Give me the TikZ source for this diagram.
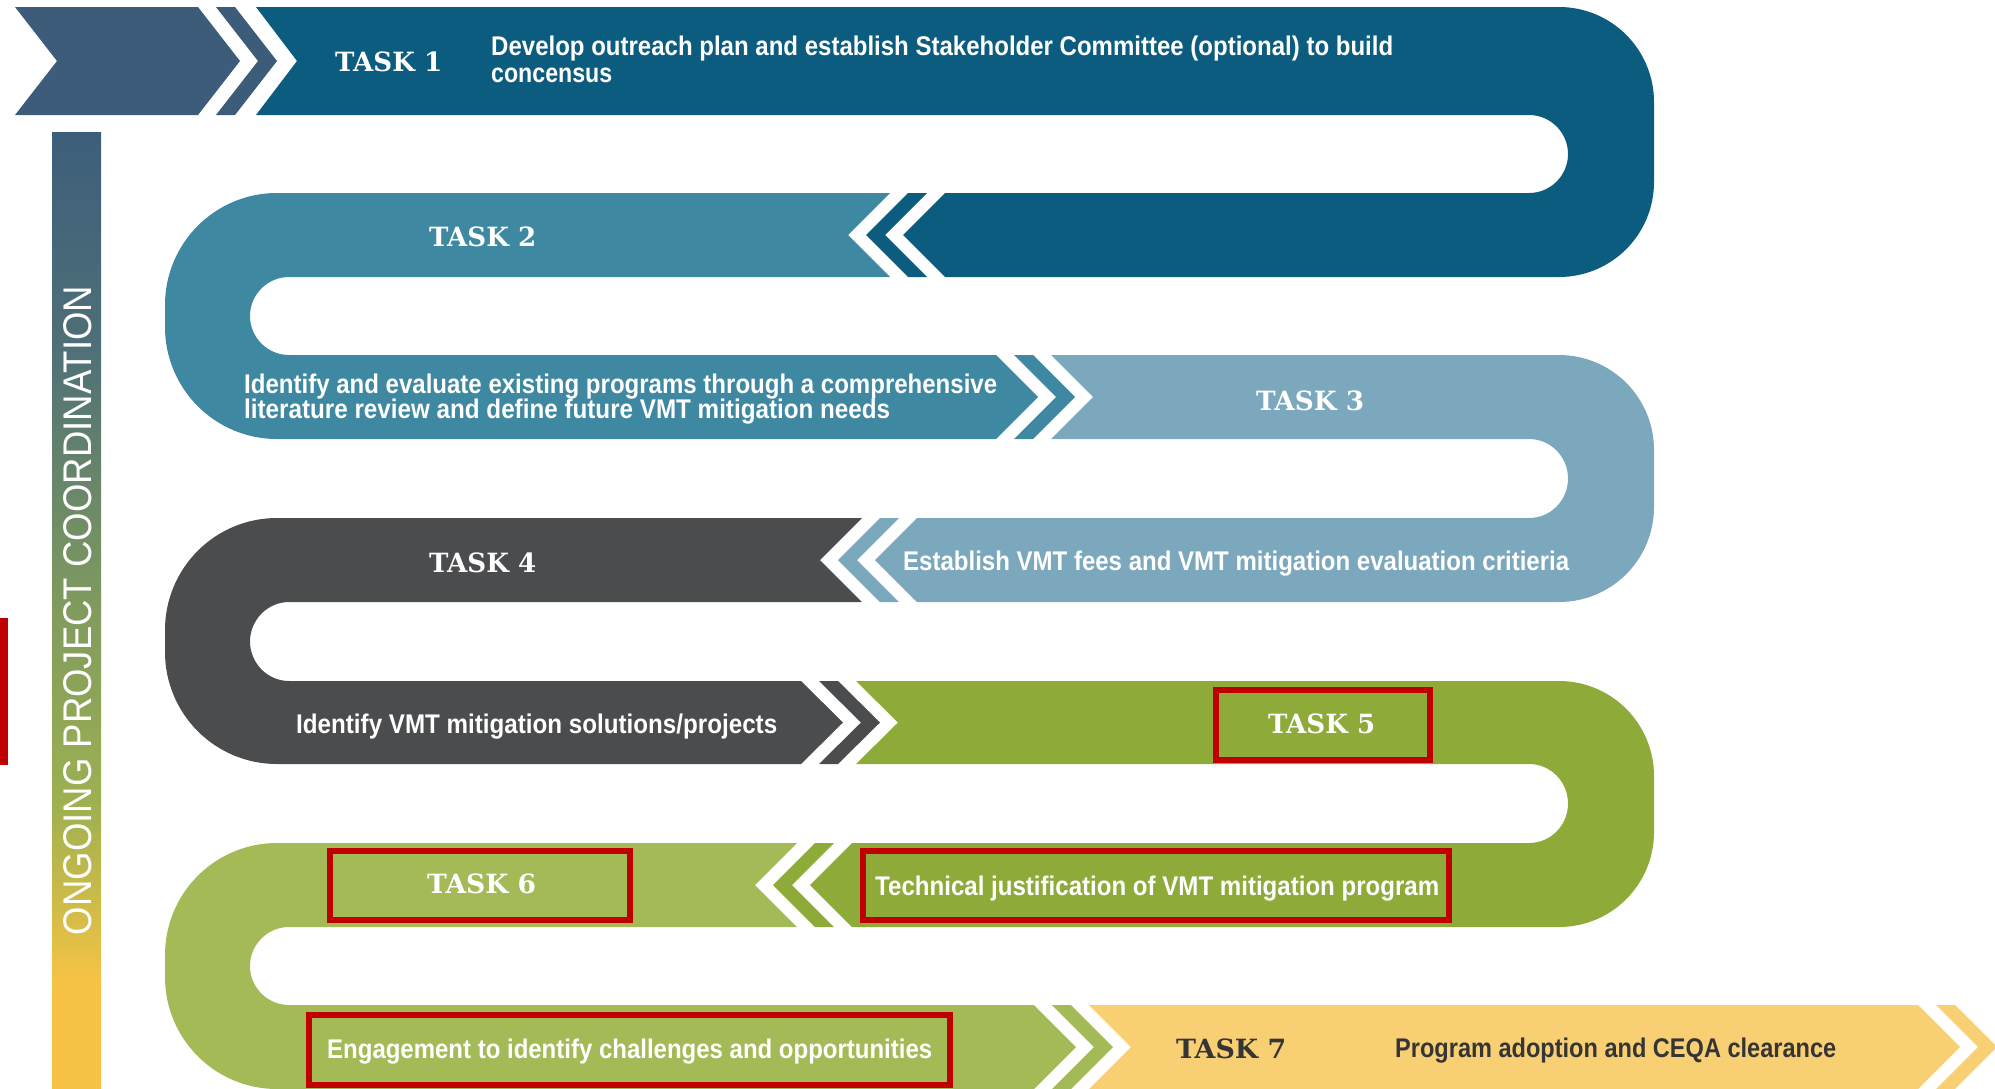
\documentclass[tikz,border=0pt]{standalone}
\usepackage{graphicx}
\usepackage{fontspec}
\setmainfont{Liberation Sans}
\newfontfamily\slabfont{DejaVu Serif}
\newfontfamily\descfont{Liberation Sans}
\newcommand\fitw[2]{\resizebox{#1pt}{\height}{#2}}
\definecolor{slate}{HTML}{3C5C79}
\definecolor{cA}{HTML}{0C5C7F}
\definecolor{cB}{HTML}{3F88A2}
\definecolor{cC}{HTML}{7CA8BE}
\definecolor{cD}{HTML}{4B4C4E}
\definecolor{cE}{HTML}{8EAB39}
\definecolor{cF}{HTML}{A4BA57}
\definecolor{cG}{HTML}{F9CF74}
\definecolor{redc}{HTML}{C00000}
\definecolor{textdark}{HTML}{353535}
\definecolor{barS}{HTML}{3D5E7A}
\definecolor{barT}{HTML}{4F7077}
\definecolor{barM}{HTML}{7F9A5E}
\definecolor{barG}{HTML}{9CB051}
\definecolor{barO}{HTML}{CDBB48}
\definecolor{barY}{HTML}{F6C345}
\pgfdeclareverticalshading{barshade}{100bp}{color(0bp)=(barY); color(25bp)=(barY); color(30.6bp)=(barY); color(34.8bp)=(barO); color(40.1bp)=(barG); color(50.5bp)=(barM); color(63.6bp)=(barT); color(75bp)=(barS); color(100bp)=(barS)}
\tikzset{
  lab/.style={inner sep=0pt, anchor=base west, text=white, font=\slabfont\bfseries\fontsize{26.5}{30}\selectfont},
  desc/.style={inner sep=0pt, anchor=base west, text=white, font=\descfont\bfseries\fontsize{27}{30}\selectfont},
  bartext/.style={inner sep=0pt, rotate=90, text=white, font=\descfont\fontsize{40}{44}\selectfont},
  redbox/.style={draw=redc, line width=6pt},
}
\begin{document}
\begin{tikzpicture}[x=1pt,y=-1pt]
\useasboundingbox (0,0) rectangle (1995,1088);
\clip (0,0) rectangle (1995,1088);

% vertical coordination bar
\shade[shading=barshade] (52,132) rectangle (101,1088);

% start chevron
\fill[slate] (15,7) -- (198,7) -- (240,61) -- (198,115) -- (15,115) -- (57,61) -- cycle;

% stripes between tasks
\fill[slate] (216,7) -- (235,7) -- (277,61) -- (235,115) -- (216,115) -- (258,61) -- cycle;
\fill[cA] (927,193) -- (908,193) -- (866,235) -- (908,277) -- (927,277) -- (885,235) -- cycle;
\fill[cB] (1014,355) -- (1033,355) -- (1075,397) -- (1033,439) -- (1014,439) -- (1056,397) -- cycle;
\fill[cC] (899,518) -- (880,518) -- (838,560) -- (880,602) -- (899,602) -- (857,560) -- cycle;
\fill[cD] (819,681) -- (838,681) -- (880,722.5) -- (838,764) -- (819,764) -- (861,722.5) -- cycle;
\fill[cE] (834,843) -- (815,843) -- (773,885) -- (815,927) -- (834,927) -- (792,885) -- cycle;
\fill[cF] (1052,1005) -- (1071,1005) -- (1113,1047) -- (1071,1089) -- (1052,1089) -- (1094,1047) -- cycle;
\fill[cG] (1936,1005) -- (1955,1005) -- (1997,1047) -- (1955,1089) -- (1936,1089) -- (1978,1047) -- cycle;

% Task 1
\fill[cA] (256,7) -- (1559,7) .. controls (1611.5,7) and (1654,49.5) .. (1654,102) -- (1654,182) .. controls (1654,234.5) and (1611.5,277) .. (1559,277) -- (945,277) -- (903,235) -- (945,193) -- (1529,193) .. controls (1550.5,193) and (1568,175.5) .. (1568,154) .. controls (1568,132.5) and (1550.5,115) .. (1529,115) -- (256,115) -- (297,61) -- cycle;
% Task 2
\fill[cB] (890,193) -- (848,235) -- (890,277) -- (289,277) .. controls (267.5,277) and (250,294.5) .. (250,316) .. controls (250,337.5) and (267.5,355) .. (289,355) -- (996,355) -- (1038,397) -- (996,439) -- (277,439) .. controls (215.1,439) and (165,388.9) .. (165,327) -- (165,305) .. controls (165,243.1) and (215.1,193) .. (277,193) -- cycle;
% Task 3
\fill[cC] (1051,355) -- (1559,355) .. controls (1611.5,355) and (1654,397.5) .. (1654,450) -- (1654,507) .. controls (1654,559.5) and (1611.5,602) .. (1559,602) -- (917,602) -- (875,560) -- (917,518) -- (1529,518) .. controls (1550.5,518) and (1568,500.5) .. (1568,478.5) .. controls (1568,456.5) and (1550.5,439) .. (1529,439) -- (1051,439) -- (1093,397) -- cycle;
% Task 4
\fill[cD] (862,518) -- (820,560) -- (862,602) -- (289,602) .. controls (267.5,602) and (250,620) .. (250,641.5) .. controls (250,663) and (267.5,681) .. (289,681) -- (801,681) -- (843,722.5) -- (801,764) -- (277,764) .. controls (215.1,764) and (165,713.9) .. (165,652) -- (165,630) .. controls (165,568.1) and (215.1,518) .. (277,518) -- cycle;
% Task 5
\fill[cE] (856,681) -- (898,722.5) -- (856,764) -- (1529,764) .. controls (1550.5,764) and (1568,781.5) .. (1568,803.5) .. controls (1568,825.5) and (1550.5,843) .. (1529,843) -- (852,843) -- (810,885) -- (852,927) -- (1559,927) .. controls (1611.5,927) and (1654,884.5) .. (1654,832) -- (1654,776) .. controls (1654,723.5) and (1611.5,681) .. (1559,681) -- cycle;
% Task 6
\fill[cF] (797,843) -- (755,885) -- (797,927) -- (289,927) .. controls (267.5,927) and (250,944.5) .. (250,966) .. controls (250,987.5) and (267.5,1005) .. (289,1005) -- (1034,1005) -- (1076,1047) -- (1034,1089) -- (277,1089) .. controls (215.1,1089) and (165,1038.9) .. (165,977) -- (165,955) .. controls (165,893.1) and (215.1,843) .. (277,843) -- cycle;
% Task 7
\fill[cG] (1089,1005) -- (1918,1005) -- (1960,1047) -- (1918,1089) -- (1089,1089) -- (1131,1047) -- cycle;

% texts
\node[bartext] (ongoing) at (78,610.5) {\fitw{649}{ONGOING PROJECT COORDINATION}};

\node[lab] (t1lab) at (335,71) {\fitw{107}{TASK 1}};
\node[desc] (t1a) at (491,55) {\fitw{902}{Develop outreach plan and establish Stakeholder Committee (optional) to build}};
\node[desc] (t1b) at (491,82) {\fitw{121}{concensus}};

\node[lab] (t2lab) at (429,246) {\fitw{107}{TASK 2}};
\node[desc] (t2a) at (244,393) {\fitw{753}{Identify and evaluate existing programs through a comprehensive}};
\node[desc] (t2b) at (244,418) {\fitw{646}{literature review and define future VMT mitigation needs}};

\node[lab] (t3lab) at (1256,410) {\fitw{108}{TASK 3}};
\node[desc] (t3a) at (903,570) {\fitw{666}{Establish VMT fees and VMT mitigation evaluation critieria}};

\node[lab] (t4lab) at (429,572) {\fitw{107}{TASK 4}};
\node[desc] (t4a) at (296,733) {\fitw{481}{Identify VMT mitigation solutions/projects}};

\node[lab] (t5lab) at (1268,733) {\fitw{107}{TASK 5}};
\node[desc] (t5a) at (875,895) {\fitw{564}{Technical justification of VMT mitigation program}};

\node[lab] (t6lab) at (427,893) {\fitw{109}{TASK 6}};
\node[desc] (t6a) at (327,1058) {\fitw{605}{Engagement to identify challenges and opportunities}};

\node[lab, text=textdark] (t7lab) at (1176,1058) {\fitw{110}{TASK 7}};
\node[desc, text=textdark] (t7a) at (1395,1057) {\fitw{441}{Program adoption and CEQA clearance}};

% red highlight boxes
\draw[redbox] (1216,690) rectangle (1430,760);
\draw[redbox] (330,851) rectangle (630,920);
\draw[redbox] (863,851) rectangle (1449,920);
\draw[redbox] (309,1015) rectangle (950,1085);
\fill[redc] (0,618) rectangle (8,765);
\end{tikzpicture}
\end{document}
